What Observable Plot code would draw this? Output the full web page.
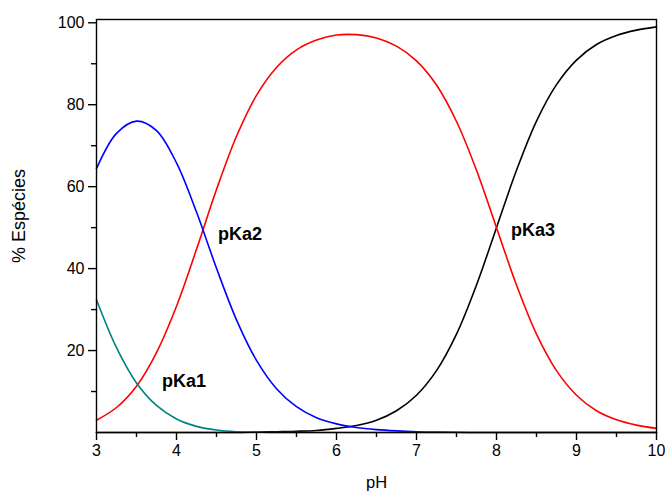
<!DOCTYPE html>
<html>
<head>
<meta charset="utf-8">
<script src="https://cdn.jsdelivr.net/npm/d3@7"></script>
<script src="https://cdn.jsdelivr.net/npm/@observablehq/plot@0.6"></script>
<style>
  html, body { margin: 0; padding: 0; background: #fff; }
  #chart svg { display: block; }
</style>
</head>
<body>
<div id="chart"></div>
<script>
// pH sample points
const ph = [3, 3.25, 3.5, 3.75, 4, 4.25, 4.5, 4.75, 5, 5.25, 5.5, 5.75, 6, 6.25, 6.5, 6.75, 7, 7.25, 7.5, 7.75, 8, 8.25, 8.5, 8.75, 9, 9.25, 9.5, 9.75, 10];
// % species
const h3a = [32.4, 20.7, 12.1, 6.6, 3.3, 1.5, 0.6, 0.2, 0.1, 0, 0, 0, 0, 0, 0, 0, 0, 0, 0, 0, 0, 0, 0, 0, 0, 0, 0, 0, 0];
const h2a = [64.4, 73.0, 76.0, 73.7, 65.8, 53.8, 40.1, 27.5, 17.6, 10.7, 6.3, 3.6, 2.1, 1.2, 0.7, 0.4, 0.2, 0.1, 0.05, 0, 0, 0, 0, 0, 0, 0, 0, 0, 0];
const ha  = [3.0, 6.1, 11.3, 19.5, 30.8, 44.7, 59.3, 72.3, 82.3, 89.1, 93.4, 95.8, 97.0, 97.1, 96.3, 94.3, 90.7, 84.8, 75.9, 64.0, 50.0, 36.0, 24.0, 15.1, 9.1, 5.3, 3.1, 1.8, 1.0];
const a   = [0, 0, 0, 0, 0, 0, 0, 0, 0.1, 0.2, 0.3, 0.5, 1.0, 1.7, 3.0, 5.3, 9.1, 15.1, 24.0, 36.0, 50.0, 64.0, 76.0, 84.9, 90.9, 94.7, 96.9, 98.2, 99.0];

const seriesNames = ["H3A", "H2A", "HA", "A"];
const seriesValues = [h3a, h2a, ha, a];
const seriesColors = ["#008080", "#0000ff", "#ff0000", "#000000"];

// annotations
const labels = ["pKa1", "pKa2", "pKa3"];
const labelX = [3.82, 4.52, 8.18];
const labelY = [12.4, 48.5, 49.3];

const xTicks = [3, 4, 5, 6, 7, 8, 9, 10];
const xMinor = [3.5, 4.5, 5.5, 6.5, 7.5, 8.5, 9.5];
const yTicks = [20, 40, 60, 80, 100];
const yMinor = [10, 30, 50, 70, 90];

const rows = [];
seriesNames.forEach((s, k) => ph.forEach((p, i) => rows.push({series: s, ph: p, v: seriesValues[k][i]})));
const ann = labels.map((t, i) => ({t, x: labelX[i], y: labelY[i]}));

const font = "'Liberation Sans', Arial, Helvetica, sans-serif";
const drawOrder = ["A", "HA", "H2A", "H3A"];

const chart = Plot.plot({
  width: 665,
  height: 493,
  marginLeft: 96,
  marginRight: 9,
  marginTop: 19,
  marginBottom: 61,
  style: {fontFamily: font, fontSize: "15px", color: "#000", background: "#fff"},
  x: {domain: [3, 10]},
  y: {domain: [0, 100.8]},
  marks: [
    ...drawOrder.map(s => Plot.line(rows.filter(d => d.series === s), {
      x: "ph", y: "v", stroke: seriesColors[seriesNames.indexOf(s)], strokeWidth: 1.6, curve: "catmull-rom"
    })),
    Plot.frame({stroke: "#000", strokeWidth: 1.4}),
    Plot.axisX({ticks: xTicks, tickSize: 8, tickPadding: 4, tickFormat: d => String(d), label: null, strokeWidth: 1.4, fontSize: 16}),
    Plot.axisX({ticks: xMinor, tickSize: 5, tickFormat: null, text: null, label: null, strokeWidth: 1.4}),
    Plot.axisY({ticks: yTicks, tickSize: 8, tickPadding: 4, tickFormat: d => String(d), label: null, strokeWidth: 1.4, fontSize: 16}),
    Plot.axisY({ticks: yMinor, tickSize: 5, tickFormat: null, text: null, label: null, strokeWidth: 1.4}),
    Plot.text(ann, {x: "x", y: "y", text: "t", textAnchor: "start", fontWeight: "bold", fontSize: 18, fill: "#000"}),
    Plot.text(["pH"], {frameAnchor: "bottom", text: d => d, textAnchor: "middle", lineAnchor: "middle", dy: 50, fontSize: 16.5, fill: "#000"}),
    Plot.text(["% Espécies"], {frameAnchor: "left", text: d => d, rotate: -90, textAnchor: "middle", lineAnchor: "middle", dx: -77, dy: -10, fontSize: 18, fill: "#000"})
  ]
});
document.getElementById("chart").appendChild(chart);
</script>
</body>
</html>
